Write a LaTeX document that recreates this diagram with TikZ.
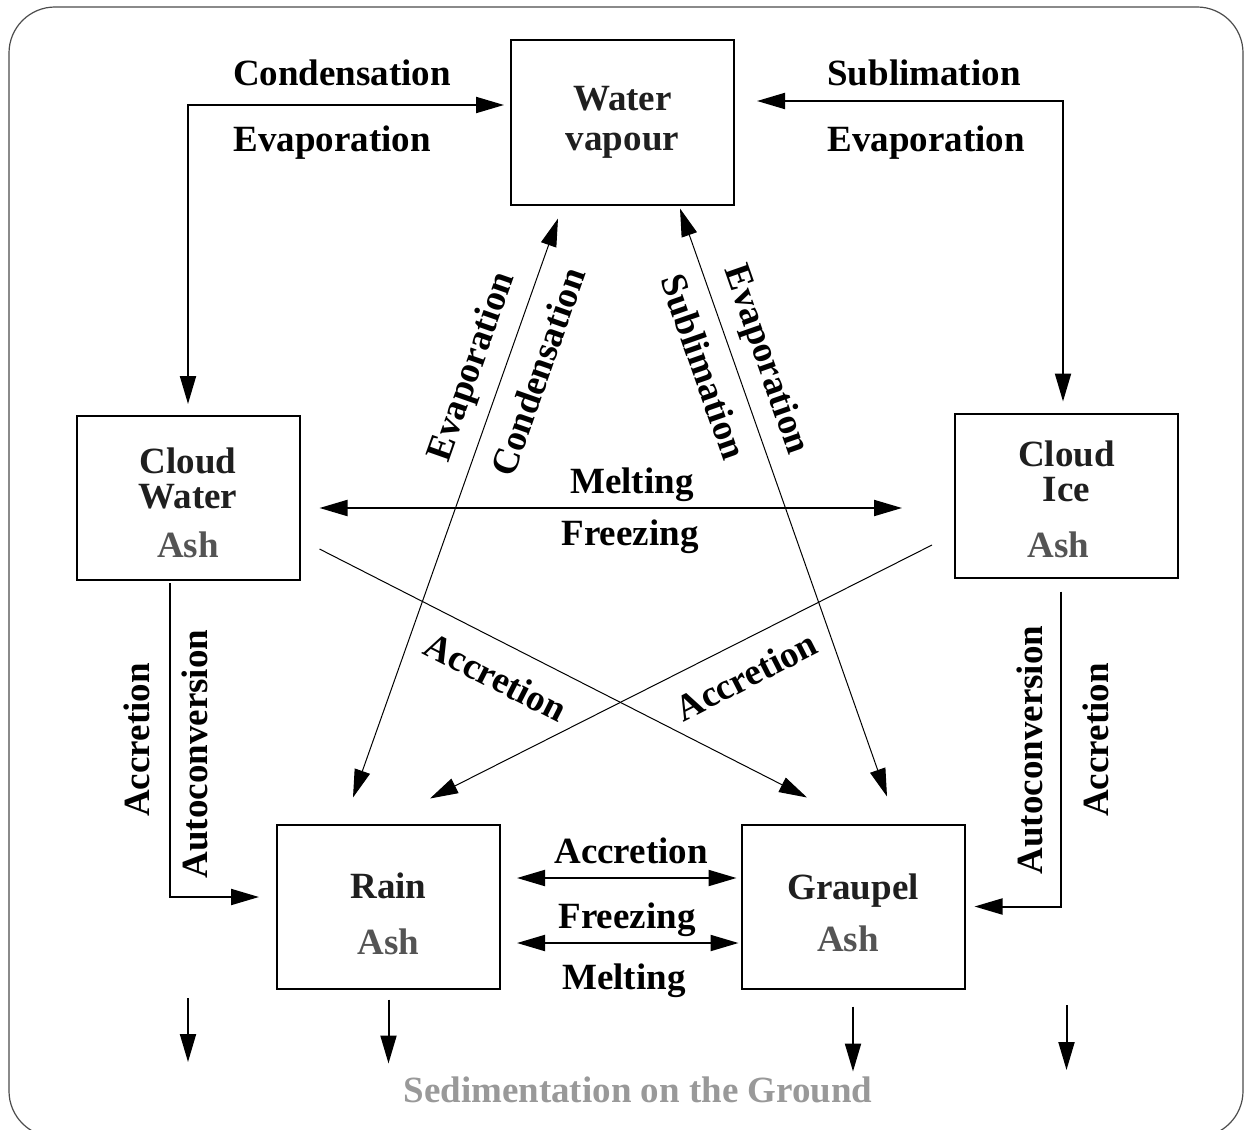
\documentclass[tikz,border=0pt]{standalone}
\usepackage{fontspec}
\setmainfont{Liberation Serif}
\usetikzlibrary{arrows.meta}
\definecolor{ashgray}{gray}{0.33}
\definecolor{groundgray}{gray}{0.6}
\definecolor{framegray}{gray}{0.3}
\newcommand{\bigbf}{\fontsize{37}{35}\selectfont\bfseries}
\tikzset{
	>={Triangle[length=28pt,width=16pt]},
	box/.style={draw, line width=2pt, minimum width=223pt, minimum height=164pt, inner sep=0pt, align=center, font=\bigbf, text=black!88},
	lbl/.style={font=\bigbf, inner sep=0pt},
	heavy/.style={line width=2pt},
	light/.style={line width=1pt},
}
\begin{document}
\begin{tikzpicture}[x=1pt, y=-1pt]
	\useasboundingbox (0,0) rectangle (1252,1129);
	\draw[framegray, line width=1.2pt, rounded corners=46pt] (9,7) rectangle (1243,1137);
	\node[box] (wv) at (622.5,122.5) {Water\\[5pt]vapour};
	\node[box] (cw) at (188,498) {\rule{0pt}{36pt}Cloud\\Water\\[14pt]\textcolor{ashgray}{Ash}};
	\node[box] (ci) at (1066.5,495.5) {\rule{0pt}{33pt}Cloud\\Ice\\[21pt]\textcolor{ashgray}{Ash}\hspace*{16pt}};
	\node[box] (rn) at (388.5,906.5) {\rule{0pt}{41pt}Rain\\[21pt]\textcolor{ashgray}{Ash}};
	\node[box] (gp) at (853,906.5) {\rule{0pt}{39pt}Graupel\\[17pt]\textcolor{ashgray}{Ash}\hspace*{10pt}};
	\coordinate (cwfall) at (188,998);
	\coordinate (cwground) at (188,1062);
	\coordinate (cifall) at (1066.5,1005);
	\coordinate (ciground) at (1066.5,1070);
	\draw[heavy, <->, shorten <=11pt] (cw.north) |- ([xshift=-6pt,yshift=17.5pt]wv.west);
	\draw[heavy, <->, shorten >=11pt] ([xshift=22pt,yshift=21.5pt]wv.east) -| ([xshift=-3.5pt]ci.north);
	\draw[heavy, <->] ([xshift=19pt,yshift=-10pt]cw.east) -- ([xshift=-52pt,yshift=-12.5pt]ci.west);
	\draw[light, <->] ([xshift=-35.5pt,yshift=26pt]rn.north) -- ([xshift=-64.5pt,yshift=-13pt]wv.south);
	\draw[light, <->] ([xshift=57.5pt,yshift=-3pt]wv.south) -- ([xshift=34pt,yshift=27pt]gp.north);
	\draw[light, ->] ([xshift=19pt,yshift=-51pt]cw.east) -- ([xshift=-46pt,yshift=26pt]gp.north);
	\draw[light, ->] ([xshift=-22pt,yshift=-49.5pt]ci.west) -- ([xshift=41.5pt,yshift=25pt]rn.north);
	\draw[heavy, ->] ([xshift=-18pt,yshift=-2pt]cw.south) |- ([xshift=-17pt,yshift=9.5pt]rn.west);
	\draw[heavy, ->] ([xshift=-5.5pt,yshift=-13pt]ci.south) |- ([xshift=9pt]gp.east);
	\draw[heavy, <->] ([xshift=16pt,yshift=28.5pt]rn.east) -- ([xshift=-4pt,yshift=28.5pt]gp.west);
	\draw[heavy, <->] ([xshift=16pt,yshift=-36.5pt]rn.east) -- ([xshift=-2pt,yshift=-36.5pt]gp.west);
	\draw[heavy, ->] (cwfall) -- (cwground);
	\draw[heavy, ->] ([yshift=-10pt]rn.south) -- ([yshift=-74pt]rn.south);
	\draw[heavy, ->] ([yshift=-17pt]gp.south) -- ([yshift=-82pt]gp.south);
	\draw[heavy, ->] (cifall) -- (ciground);
	\node[lbl] (cond1) at (342,73) {Condensation};
	\node[lbl] (evap1) at (332,143) {Evaporation};
	\node[lbl] (subl1) at (924,73) {Sublimation};
	\node[lbl] (evap2) at (926,143) {Evaporation};
	\node[lbl] (melt1) at (632,485) {Melting};
	\node[lbl] (frz1) at (630,537) {Freezing};
	\node[lbl, rotate=70.6] (evap3) at (473,367) {Evaporation};
	\node[lbl, rotate=70.6] (cond2) at (538,372) {Condensation};
	\node[lbl, rotate=-70.7] (subl2) at (704,367) {Sublimation};
	\node[lbl, rotate=-70.7] (evap4) at (765,360) {Evaporation};
	\node[lbl, rotate=-27] (accr1) at (496,677) {Accretion};
	\node[lbl, rotate=27] (accr2) at (746,676) {Accretion};
	\node[lbl, rotate=90] (accr3) at (137,740) {Accretion};
	\node[lbl, rotate=90] (auto1) at (195,754) {Autoconversion};
	\node[lbl, rotate=90] (auto2) at (1030,750) {Autoconversion};
	\node[lbl, rotate=90] (accr4) at (1096,740) {Accretion};
	\node[lbl] (accr5) at (631,851) {Accretion};
	\node[lbl] (frz2) at (627,920) {Freezing};
	\node[lbl] (melt2) at (624,981) {Melting};
	\node[lbl, text=groundgray] (sed) at (638,1090) {Sedimentation on the Ground};
\end{tikzpicture}
\end{document}
